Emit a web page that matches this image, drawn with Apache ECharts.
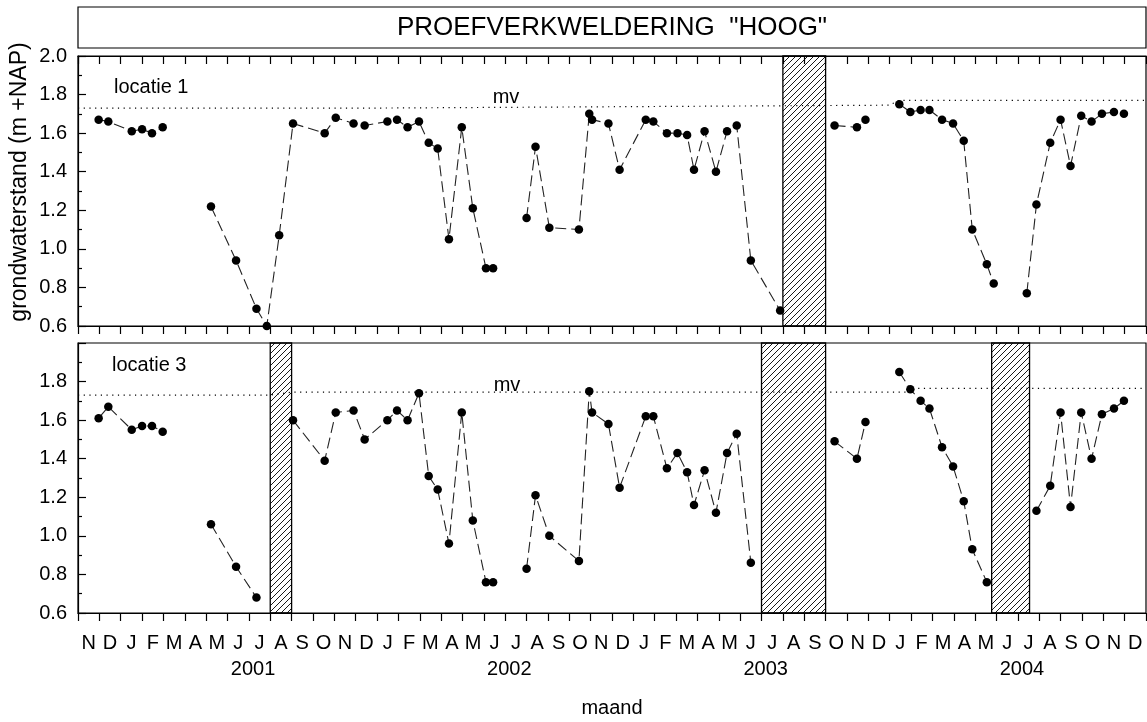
<!DOCTYPE html>
<html>
<head>
<meta charset="utf-8">
<script src="https://cdn.jsdelivr.net/npm/echarts@6/dist/echarts.min.js"></script>
<style>
html, body { margin: 0; padding: 0; background: #fff; }
#chart { width: 1147px; height: 722px; }
</style>
</head>
<body>
<div id="chart"></div>
<script>
// Month letters along the time axis, Nov 2000 .. Dec 2004
const monthLabels = ['N','D',
  'J','F','M','A','M','J','J','A','S','O','N','D',
  'J','F','M','A','M','J','J','A','S','O','N','D',
  'J','F','M','A','M','J','J','A','S','O','N','D',
  'J','F','M','A','M','J','J','A','S','O','N','D'];
const yearLabels = ['2001', '2002', '2003', '2004'];
const yearCenters = ['2001-07-07', '2002-07-07', '2003-07-07', '2004-07-07'];

// Groundwater level, locatie 1 (m +NAP); null breaks the line
const dates1 = [
  '2000-11-30','2000-12-14','2001-01-17','2001-02-01','2001-02-14','2001-02-28',
  '2001-04-01',
  '2001-05-08','2001-06-13','2001-07-12','2001-07-27','2001-08-14','2001-09-03',
  '2001-10-18','2001-11-03','2001-11-28','2001-12-14','2002-01-16','2002-01-30',
  '2002-02-13','2002-02-28','2002-03-14','2002-03-27','2002-04-12','2002-04-30',
  '2002-05-16','2002-06-04','2002-06-14',
  '2002-07-15',
  '2002-08-01','2002-08-14','2002-09-03','2002-10-15','2002-10-30','2002-11-03',
  '2002-11-26','2002-12-12','2003-01-19','2003-01-30','2003-02-17','2003-03-03',
  '2003-03-17','2003-03-27','2003-04-11','2003-04-27','2003-05-13','2003-05-27',
  '2003-06-16','2003-07-28',
  '2003-09-01',
  '2003-10-14','2003-11-15','2003-11-27',
  '2003-12-20',
  '2004-01-15','2004-01-31','2004-02-14','2004-02-26','2004-03-15','2004-03-31',
  '2004-04-15','2004-04-27','2004-05-18','2004-05-28',
  '2004-06-20',
  '2004-07-14','2004-07-28','2004-08-17','2004-09-01','2004-09-15','2004-09-30',
  '2004-10-15','2004-10-30','2004-11-16','2004-11-30'];
const level1 = [
  1.67, 1.66, 1.61, 1.62, 1.60, 1.63,
  null,
  1.22, 0.94, 0.69, 0.60, 1.07, 1.65,
  1.60, 1.68, 1.65, 1.64, 1.66, 1.67,
  1.63, 1.66, 1.55, 1.52, 1.05, 1.63,
  1.21, 0.90, 0.90,
  null,
  1.16, 1.53, 1.11, 1.10, 1.70, 1.67,
  1.65, 1.41, 1.67, 1.66, 1.60, 1.60,
  1.59, 1.41, 1.61, 1.40, 1.61, 1.64,
  0.94, 0.68,
  null,
  1.64, 1.63, 1.67,
  null,
  1.75, 1.71, 1.72, 1.72, 1.67, 1.65,
  1.56, 1.10, 0.92, 0.82,
  null,
  0.77, 1.23, 1.55, 1.67, 1.43, 1.69,
  1.66, 1.70, 1.71, 1.70];

// Groundwater level, locatie 3 (m +NAP); null breaks the line
const dates3 = [
  '2000-11-30','2000-12-14','2001-01-17','2001-02-01','2001-02-14','2001-02-28',
  '2001-04-01',
  '2001-05-08','2001-06-13','2001-07-12',
  '2001-08-15',
  '2001-09-03','2001-10-18','2001-11-03','2001-11-28','2001-12-14','2002-01-16',
  '2002-01-30','2002-02-13','2002-02-28','2002-03-14','2002-03-27','2002-04-12',
  '2002-04-30','2002-05-16','2002-06-04','2002-06-14',
  '2002-07-15',
  '2002-08-01','2002-08-14','2002-09-03','2002-10-15','2002-10-30','2002-11-03',
  '2002-11-26','2002-12-12','2003-01-19','2003-01-30','2003-02-17','2003-03-03',
  '2003-03-17','2003-03-27','2003-04-11','2003-04-27','2003-05-13','2003-05-27',
  '2003-06-16',
  '2003-08-15',
  '2003-10-14','2003-11-15','2003-11-27',
  '2003-12-20',
  '2004-01-15','2004-01-31','2004-02-14','2004-02-26','2004-03-15','2004-03-31',
  '2004-04-15','2004-04-27','2004-05-18',
  '2004-06-20',
  '2004-07-28','2004-08-17','2004-09-01','2004-09-15','2004-09-30','2004-10-15',
  '2004-10-30','2004-11-16','2004-11-30'];
const level3 = [
  1.61, 1.67, 1.55, 1.57, 1.57, 1.54,
  null,
  1.06, 0.84, 0.68,
  null,
  1.60, 1.39, 1.64, 1.65, 1.50, 1.60,
  1.65, 1.60, 1.74, 1.31, 1.24, 0.96,
  1.64, 1.08, 0.76, 0.76,
  null,
  0.83, 1.21, 1.00, 0.87, 1.75, 1.64,
  1.58, 1.25, 1.62, 1.62, 1.35, 1.43,
  1.33, 1.16, 1.34, 1.12, 1.43, 1.53,
  0.86,
  null,
  1.49, 1.40, 1.59,
  null,
  1.85, 1.76, 1.70, 1.66, 1.46, 1.36,
  1.18, 0.93, 0.76,
  null,
  1.13, 1.26, 1.64, 1.15, 1.64, 1.40,
  1.63, 1.66, 1.70];

// Ground surface level (mv)
const mvDates1 = ['2000-11-01','2001-12-31','2002-01-01','2003-12-31','2004-01-15','2004-12-31'];
const mv1 = [1.73, 1.73, 1.74, 1.745, 1.77, 1.77];
const mvDates3 = ['2000-11-01','2001-08-01','2001-09-01','2004-01-31','2004-02-01','2004-12-31'];
const mv3 = [1.73, 1.73, 1.745, 1.745, 1.765, 1.765];

// Periods without measurements (hatched)
const gaps1 = [['2003-08-01', '2003-10-01']];
const gaps3 = [['2001-08-01', '2001-09-01'], ['2003-07-01', '2003-10-01'], ['2004-05-25', '2004-07-18']];

// Position on the month axis: 0 = 1 Nov 2000, one unit per month
function monthPos(s) {
  const [y, m, d] = s.split('-').map(Number);
  const days = new Date(y, m, 0).getDate();
  return (y - 2000) * 12 + (m - 1) - 10 + (d - 1) / days;
}
function pairs(dates, vals) {
  return dates.map((d, i) => [monthPos(d), vals[i]]);
}

function hatchCanvas() {
  const c = document.createElement('canvas');
  c.width = 6; c.height = 6;
  const g = c.getContext('2d');
  g.strokeStyle = '#000';
  g.lineWidth = 0.9;
  g.beginPath();
  g.moveTo(0, 6); g.lineTo(6, 0);
  g.moveTo(-3, 3); g.lineTo(3, -3);
  g.moveTo(3, 9); g.lineTo(9, 3);
  g.stroke();
  return c;
}
const hatch = { image: hatchCanvas(), repeat: 'repeat' };

const FONT = 'Liberation Sans, Arial, sans-serif';
const INK = '#000';
const nMonths = monthLabels.length;
const tickVals = Array.from({ length: nMonths + 1 }, (_, i) => i);
const labelVals = monthLabels.map((_, i) => i + 0.5);
const yearVals = yearCenters.map(monthPos);

function monthAxis(grid, position, opts) {
  return Object.assign({
    type: 'value', gridIndex: grid, position: position,
    min: 0, max: nMonths, interval: 1,
    axisLine: { show: true, onZero: false, lineStyle: { color: INK, width: 1.2 } },
    axisTick: { show: true, inside: false, length: 8, customValues: tickVals, lineStyle: { color: INK, width: 1.2 } },
    axisLabel: { show: false },
    splitLine: { show: false }
  }, opts);
}

function levelAxis(grid, showMax) {
  return {
    type: 'value', gridIndex: grid, min: 0.6, max: 2.0, interval: 0.2,
    axisLine: { show: true, lineStyle: { color: INK, width: 1.2 } },
    axisTick: { show: true, inside: true, length: 8, lineStyle: { color: INK, width: 1.2 } },
    minorTick: { show: true, splitNumber: 2, length: 4, lineStyle: { color: INK, width: 1.2 } },
    axisLabel: {
      color: INK, fontSize: 20, fontFamily: FONT, margin: 11, showMaxLabel: showMax,
      formatter: v => v.toFixed(1)
    },
    splitLine: { show: false }
  };
}

function levelSeries(idx, dates, vals) {
  return {
    type: 'line', xAxisIndex: idx === 0 ? 0 : 2, yAxisIndex: idx,
    data: pairs(dates, vals), connectNulls: false,
    symbol: 'circle', symbolSize: 8.5, showSymbol: true,
    itemStyle: { color: '#000' },
    lineStyle: { color: '#222', width: 1.1, type: [11, 5] },
    z: 5, animation: false
  };
}

function mvSeries(idx, dates, vals, gaps) {
  return {
    type: 'line', xAxisIndex: idx === 0 ? 0 : 2, yAxisIndex: idx,
    data: pairs(dates, vals), symbol: 'none',
    lineStyle: { color: '#000', width: 1.2, type: [1.2, 4.5] },
    z: 3, animation: false,
    markArea: {
      silent: true,
      itemStyle: { color: hatch, borderColor: '#000', borderWidth: 1.3 },
      data: gaps.map(([a, b]) => [{ xAxis: monthPos(a) }, { xAxis: monthPos(b) }])
    }
  };
}

const chart = echarts.init(document.getElementById('chart'), null, { renderer: 'canvas' });
chart.setOption({
  animation: false,
  backgroundColor: '#fff',
  textStyle: { fontFamily: FONT },
  grid: [
    { left: 78, right: 1, top: 56, height: 270, show: true, borderColor: INK, borderWidth: 1.2, backgroundColor: '#fff' },
    { left: 78, right: 1, top: 343, height: 270, show: true, borderColor: INK, borderWidth: 1.2, backgroundColor: '#fff' }
  ],
  xAxis: [
    monthAxis(0, 'bottom', {}),
    monthAxis(0, 'top', { axisTick: { show: true, inside: true, length: 8, customValues: tickVals, lineStyle: { color: INK, width: 1.2 } } }),
    monthAxis(1, 'bottom', {
      axisLabel: {
        show: true, customValues: labelVals, color: INK, fontSize: 20, fontFamily: FONT, margin: 20,
        formatter: v => monthLabels[Math.floor(v)]
      }
    }),
    monthAxis(1, 'bottom', {
      axisLine: { show: false }, axisTick: { show: false },
      axisLabel: {
        show: true, customValues: yearVals, color: INK, fontSize: 20, fontFamily: FONT, margin: 46,
        formatter: v => yearLabels[yearVals.findIndex(y => Math.abs(y - v) < 1e-6)]
      }
    })
  ],
  yAxis: [levelAxis(0, true), levelAxis(1, false)],
  series: [
    mvSeries(0, mvDates1, mv1, gaps1),
    levelSeries(0, dates1, level1),
    mvSeries(1, mvDates3, mv3, gaps3),
    levelSeries(1, dates3, level3)
  ],
  graphic: [
    { type: 'rect', shape: { x: 78, y: 7, width: 1068, height: 41 },
      style: { fill: '#fff', stroke: INK, lineWidth: 1.2 } },
    { type: 'text', x: 612, y: 28,
      style: { text: 'PROEFVERKWELDERING  "HOOG"', fontSize: 26, fontFamily: FONT, fill: INK,
               textAlign: 'center', textVerticalAlign: 'middle' } },
    { type: 'text', x: 20, y: 182, rotation: Math.PI / 2,
      style: { text: 'grondwaterstand (m +NAP)', fontSize: 23, fontFamily: FONT, fill: INK,
               textAlign: 'center', textVerticalAlign: 'middle' } },
    { type: 'text', x: 114, y: 87, z: 10,
      style: { text: 'locatie 1', fontSize: 20, fontFamily: FONT, fill: INK, textVerticalAlign: 'middle' } },
    { type: 'text', x: 112, y: 365, z: 10,
      style: { text: 'locatie 3', fontSize: 20, fontFamily: FONT, fill: INK, textVerticalAlign: 'middle' } },
    { type: 'text', x: 506, y: 97, z: 10,
      style: { text: 'mv', fontSize: 20, fontFamily: FONT, fill: INK, textAlign: 'center', textVerticalAlign: 'middle' } },
    { type: 'text', x: 507, y: 385, z: 10,
      style: { text: 'mv', fontSize: 20, fontFamily: FONT, fill: INK, textAlign: 'center', textVerticalAlign: 'middle' } },
    { type: 'text', x: 612, y: 708,
      style: { text: 'maand', fontSize: 20, fontFamily: FONT, fill: INK, textAlign: 'center', textVerticalAlign: 'middle' } }
  ]
});
</script>
</body>
</html>
